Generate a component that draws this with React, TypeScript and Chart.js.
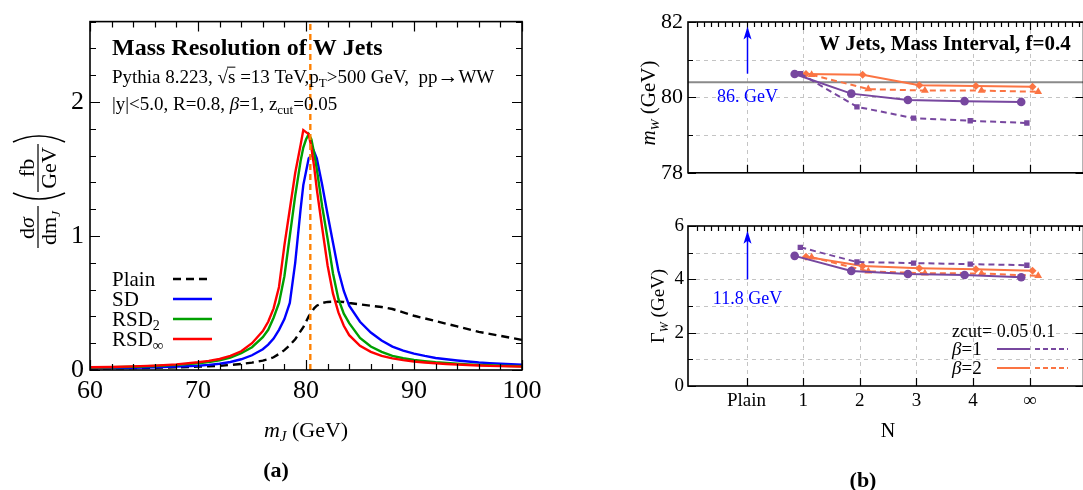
import { useEffect, useRef } from 'react';
import { Chart, registerables } from 'chart.js';

Chart.register(...registerables);

const SERIF = '"Liberation Serif", "Times New Roman", serif';

// ---------- (a) jet-mass distributions ----------
const massGeV = [
  60, 62, 64, 66, 68, 70, 71, 72, 73, 74, 75, 76, 76.5, 77, 77.5, 78, 78.5, 79, 79.5, 79.75,
  80, 80.25, 80.5, 80.75, 81, 81.5, 82, 82.5, 83, 83.5, 84, 85, 86, 87, 88, 89, 90, 91, 92, 93,
  94, 95, 96, 97, 98, 99, 100,
];
const plainXsec = [
  0.01, 0.012, 0.014, 0.017, 0.02, 0.025, 0.028, 0.032, 0.038, 0.045, 0.055, 0.07, 0.08, 0.095, 0.12, 0.148, 0.185, 0.23, 0.29, 0.32,
  0.36, 0.4, 0.43, 0.46, 0.48, 0.5, 0.508, 0.51, 0.51, 0.508, 0.5, 0.49, 0.48, 0.47, 0.455, 0.43, 0.405, 0.385, 0.365, 0.345,
  0.325, 0.305, 0.285, 0.27, 0.255, 0.24, 0.225,
];
const sdXsec = [
  0.012, 0.014, 0.017, 0.02, 0.025, 0.032, 0.038, 0.047, 0.06, 0.08, 0.11, 0.155, 0.19, 0.235, 0.3, 0.38, 0.5, 0.8, 1.2, 1.38,
  1.48, 1.58, 1.6, 1.63, 1.58, 1.38, 1.16, 0.95, 0.74, 0.59, 0.48, 0.36, 0.28, 0.22, 0.175, 0.145, 0.122, 0.105, 0.09, 0.08,
  0.071, 0.063, 0.056, 0.051, 0.047, 0.043, 0.04,
];
const rsd2Xsec = [
  0.018, 0.02, 0.024, 0.03, 0.038, 0.05, 0.06, 0.072, 0.092, 0.125, 0.17, 0.245, 0.3, 0.39, 0.5, 0.7, 1.0, 1.3, 1.56, 1.66,
  1.72, 1.76, 1.72, 1.62, 1.5, 1.22, 0.98, 0.72, 0.53, 0.42, 0.35, 0.24, 0.175, 0.135, 0.105, 0.088, 0.075, 0.066, 0.058, 0.052,
  0.047, 0.042, 0.038, 0.035, 0.032, 0.03, 0.028,
];
const rsdInfXsec = [
  0.02, 0.022, 0.027, 0.033, 0.042, 0.058, 0.068, 0.082, 0.105, 0.14, 0.2, 0.29, 0.36, 0.46, 0.62, 0.93, 1.2, 1.47, 1.68, 1.79,
  1.775, 1.76, 1.66, 1.52, 1.35, 1.06, 0.78, 0.57, 0.43, 0.33, 0.26, 0.18, 0.135, 0.105, 0.087, 0.074, 0.063, 0.056, 0.05, 0.045,
  0.041, 0.037, 0.034, 0.031, 0.029, 0.027, 0.025,
];
const wMassGeV = 80.4;
const massTicks = [60, 70, 80, 90, 100];
const xsecTicks = [0, 1, 2];

// ---------- (b) fitted W mass and width versus N ----------
const nLabels = ['Plain', '1', '2', '3', '4', '∞'];
const nTopLabels = ['No SD', '1', '2', '3', '4', '∞'];
const nPositions = [1, 2, 3, 4, 5];
const mwB1Z005 = [80.62, 80.1, 79.93, 79.9, 79.88];
const mwB1Z01 = [80.63, 79.75, 79.45, 79.38, 79.32];
const mwB2Z005 = [80.62, 80.6, 80.32, 80.3, 80.28];
const mwB2Z01 = [80.6, 80.22, 80.18, 80.18, 80.15];
const gwB1Z005 = [4.88, 4.31, 4.2, 4.16, 4.08];
const gwB1Z01 = [5.2, 4.65, 4.61, 4.57, 4.53];
const gwB2Z005 = [4.85, 4.5, 4.42, 4.38, 4.32];
const gwB2Z01 = [4.83, 4.3, 4.23, 4.22, 4.13];
const plainMwText = '86. GeV';
const plainGwText = '11.8 GeV';
const mwTicks = [78, 80, 82];
const gwTicks = [0, 2, 4, 6];

const PURPLE = '#77479f';
const ORANGE = '#fb7443';
const BLUE = '#0000ff';

// ---------- drawing helpers ----------
type Run = { t: string; px: number; italic?: boolean; bold?: boolean; dy?: number; over?: boolean; color?: string };

const fontOf = (r: Run) => `${r.italic ? 'italic ' : ''}${r.bold ? 'bold ' : ''}${r.px}px ${SERIF}`;

function runsWidth(ctx: CanvasRenderingContext2D, runs: Run[]) {
  let w = 0;
  for (const r of runs) {
    ctx.font = fontOf(r);
    w += ctx.measureText(r.t).width;
  }
  return w;
}

function drawRuns(ctx: CanvasRenderingContext2D, runs: Run[], x: number, y: number, align: 'left' | 'center' = 'left', color = '#000') {
  let cx = align === 'center' ? x - runsWidth(ctx, runs) / 2 : x;
  ctx.textAlign = 'left';
  ctx.textBaseline = 'alphabetic';
  for (const r of runs) {
    ctx.font = fontOf(r);
    ctx.fillStyle = r.color ?? color;
    const yy = y + (r.dy ?? 0);
    ctx.fillText(r.t, cx, yy);
    const w = ctx.measureText(r.t).width;
    if (r.over) ctx.fillRect(cx - 1, yy - r.px * 0.86, w + 1, 1);
    cx += w;
  }
}

function arrowUp(ctx: CanvasRenderingContext2D, x: number, yFrom: number, yTo: number) {
  ctx.save();
  ctx.strokeStyle = BLUE;
  ctx.fillStyle = BLUE;
  ctx.lineWidth = 1.5;
  ctx.setLineDash([]);
  ctx.beginPath();
  ctx.moveTo(x, yFrom);
  ctx.lineTo(x, yTo + 9);
  ctx.stroke();
  ctx.beginPath();
  ctx.moveTo(x, yTo);
  ctx.lineTo(x - 4, yTo + 13);
  ctx.lineTo(x, yTo + 10);
  ctx.lineTo(x + 4, yTo + 13);
  ctx.closePath();
  ctx.fill();
  ctx.restore();
}

type Side = { major: number[]; minor: number[] };
type FrameSpec = { bottom: Side; top: Side; left: Side; right: Side; majorLen: number; minorLen: number };

// Closed plot frame with inward tick marks on all four sides.
function framePlugin(spec: FrameSpec) {
  return {
    id: 'frameTicks',
    afterDatasetsDraw(chart: any) {
      const { ctx, chartArea: a } = chart;
      const sx = chart.scales.x;
      const sy = chart.scales.y;
      ctx.save();
      ctx.strokeStyle = '#000';
      ctx.setLineDash([]);
      ctx.lineWidth = 1.2;
      ctx.beginPath();
      const inX = (v: number) => v >= sx.min - 1e-9 && v <= sx.max + 1e-9;
      const inY = (v: number) => v >= sy.min - 1e-9 && v <= sy.max + 1e-9;
      const xs = (side: Side, edge: number, dir: number) => {
        for (const [vals, len] of [[side.major, spec.majorLen], [side.minor, spec.minorLen]] as [number[], number][]) {
          for (const v of vals) {
            if (!inX(v)) continue;
            const px = Math.round(sx.getPixelForValue(v)) + 0.5;
            ctx.moveTo(px, edge);
            ctx.lineTo(px, edge + dir * len);
          }
        }
      };
      const ys = (side: Side, edge: number, dir: number) => {
        for (const [vals, len] of [[side.major, spec.majorLen], [side.minor, spec.minorLen]] as [number[], number][]) {
          for (const v of vals) {
            if (!inY(v)) continue;
            const py = Math.round(sy.getPixelForValue(v)) + 0.5;
            ctx.moveTo(edge, py);
            ctx.lineTo(edge + dir * len, py);
          }
        }
      };
      xs(spec.bottom, a.bottom, -1);
      xs(spec.top, a.top, 1);
      ys(spec.left, a.left, 1);
      ys(spec.right, a.right, -1);
      ctx.stroke();
      ctx.lineWidth = 1.6;
      ctx.strokeRect(a.left, a.top, a.right - a.left, a.bottom - a.top);
      ctx.restore();
    },
  };
}

// Light dashed grid for the N panels.
function gridPlugin(xs: number[], ys: number[]) {
  return {
    id: 'dashGrid',
    beforeDatasetsDraw(chart: any) {
      const { ctx, chartArea: a } = chart;
      const sx = chart.scales.x;
      const sy = chart.scales.y;
      ctx.save();
      ctx.strokeStyle = '#c4c4c4';
      ctx.lineWidth = 1;
      ctx.setLineDash([4, 4]);
      ctx.beginPath();
      for (const v of xs) {
        const px = Math.round(sx.getPixelForValue(v)) + 0.5;
        ctx.moveTo(px, a.top);
        ctx.lineTo(px, a.bottom);
      }
      for (const v of ys) {
        const py = Math.round(sy.getPixelForValue(v)) + 0.5;
        ctx.moveTo(a.left, py);
        ctx.lineTo(a.right, py);
      }
      ctx.stroke();
      ctx.restore();
    },
  };
}

const range = (from: number, to: number, step: number) => {
  const out: number[] = [];
  for (let k = 0; from + k * step <= to + 1e-9; k++) out.push(+(from + k * step).toFixed(4));
  return out;
};
const without = (vals: number[], skip: number[]) => vals.filter((v) => !skip.some((s) => Math.abs(s - v) < 1e-6));

// ---------- chart (a) ----------
function makeMassChart(canvas: HTMLCanvasElement) {
  const W = canvas.width;
  const H = canvas.height;
  const pts = (ys: number[]) => ys.map((y, i) => ({ x: massGeV[i], y }));

  const legendRows: { runs: Run[]; color: string; dash: number[] }[] = [
    { runs: [{ t: 'Plain', px: 21 }], color: '#000', dash: [8, 5] },
    { runs: [{ t: 'SD', px: 21 }], color: BLUE, dash: [] },
    { runs: [{ t: 'RSD', px: 21 }, { t: '2', px: 14, dy: 4 }], color: '#00a000', dash: [] },
    { runs: [{ t: 'RSD', px: 21 }, { t: '∞', px: 15, dy: 4 }], color: '#ff0000', dash: [] },
  ];

  const notes = {
    id: 'massNotes',
    afterDraw(chart: any) {
      const ctx: CanvasRenderingContext2D = chart.ctx;
      ctx.save();
      drawRuns(ctx, [{ t: 'Mass Resolution of W Jets', px: 24, bold: true }], 112, 55);
      drawRuns(
        ctx,
        [
          { t: 'Pythia 8.223, ', px: 19 },
          { t: '√', px: 19 },
          { t: 's', px: 19, over: true },
          { t: ' =13 TeV,p', px: 19 },
          { t: 'T', px: 13, dy: 4 },
          { t: '>500 GeV,  pp', px: 19 },
          { t: '→', px: 21 },
          { t: 'WW', px: 19 },
        ],
        112,
        83,
      );
      drawRuns(
        ctx,
        [
          { t: '|y|<5.0, R=0.8, ', px: 19 },
          { t: 'β', px: 19, italic: true },
          { t: '=1, z', px: 19 },
          { t: 'cut', px: 13, dy: 4 },
          { t: '=0.05', px: 19 },
        ],
        112,
        110,
      );

      legendRows.forEach((row, i) => {
        const base = 286 + i * 20;
        drawRuns(ctx, row.runs, 112, base);
        ctx.strokeStyle = row.color;
        ctx.lineWidth = 2.4;
        ctx.setLineDash(row.dash);
        ctx.beginPath();
        ctx.moveTo(173, base - 7);
        ctx.lineTo(212, base - 7);
        ctx.stroke();
      });
      ctx.setLineDash([]);

      drawRuns(
        ctx,
        [
          { t: 'm', px: 22, italic: true },
          { t: 'J', px: 15, italic: true, dy: 4 },
          { t: ' (GeV)', px: 22 },
        ],
        306,
        437,
        'center',
      );
      drawRuns(ctx, [{ t: '(a)', px: 22, bold: true }], 276, 477, 'center');

      // dσ/dm_J (fb/GeV), rotated
      ctx.save();
      ctx.translate(38, 249);
      ctx.rotate(-Math.PI / 2);
      drawRuns(ctx, [{ t: 'd', px: 22 }, { t: 'σ', px: 22, italic: true }], 21, -4, 'center');
      drawRuns(ctx, [{ t: 'dm', px: 22 }, { t: 'J', px: 13, italic: true, dy: 4 }], 21, 18, 'center');
      ctx.fillStyle = '#000';
      ctx.fillRect(1, -0.6, 42, 1.2);
      drawRuns(ctx, [{ t: 'fb', px: 22 }], 81, -4, 'center');
      drawRuns(ctx, [{ t: 'GeV', px: 22 }], 81, 18, 'center');
      ctx.fillRect(57, -0.6, 48, 1.2);
      ctx.strokeStyle = '#000';
      ctx.lineWidth = 1.6;
      ctx.beginPath();
      ctx.moveTo(56, -25);
      ctx.quadraticCurveTo(44, 1, 56, 27);
      ctx.moveTo(107, -25);
      ctx.quadraticCurveTo(119, 1, 107, 27);
      ctx.stroke();
      ctx.restore();

      ctx.restore();
    },
  };

  const xMinor = without(range(60, 100, 2), massTicks);
  const yMinor = without(range(0, 2.6, 0.2), xsecTicks);

  return new Chart(canvas, {
    type: 'line',
    data: {
      datasets: [
        { label: 'Plain', data: pts(plainXsec), borderColor: '#000', borderDash: [8, 5], borderWidth: 2.4, order: 3 },
        { label: 'SD', data: pts(sdXsec), borderColor: BLUE, borderWidth: 2.4, order: 2 },
        { label: 'RSD2', data: pts(rsd2Xsec), borderColor: '#00a000', borderWidth: 2.4, order: 1 },
        { label: 'RSD∞', data: pts(rsdInfXsec), borderColor: '#ff0000', borderWidth: 2.4, order: 0 },
        {
          label: 'mW',
          data: [
            { x: wMassGeV, y: 0 },
            { x: wMassGeV, y: 2.6 },
          ],
          borderColor: '#ff8000',
          borderDash: [6, 4],
          borderWidth: 2.4,
          order: -1,
        },
      ],
    } as any,
    options: {
      responsive: false,
      animation: false,
      events: [],
      layout: { padding: { left: 0, top: 14, right: W - 522, bottom: 0 } },
      elements: { point: { radius: 0 }, line: { tension: 0 } },
      plugins: { legend: { display: false }, tooltip: { enabled: false } },
      scales: {
        x: {
          type: 'linear',
          min: 60,
          max: 100,
          grid: { display: false, drawTicks: false },
          border: { display: false },
          afterBuildTicks: (s: any) => {
            s.ticks = massTicks.map((value) => ({ value }));
          },
          afterFit: (s: any) => {
            s.height = H - 370;
          },
          ticks: { font: { family: SERIF, size: 26 }, color: '#000', padding: 6, maxRotation: 0, autoSkip: false },
        },
        y: {
          type: 'linear',
          min: 0,
          max: 2.6,
          grid: { display: false, drawTicks: false },
          border: { display: false },
          afterBuildTicks: (s: any) => {
            s.ticks = xsecTicks.map((value) => ({ value }));
          },
          afterFit: (s: any) => {
            s.width = 90;
          },
          ticks: { font: { family: SERIF, size: 26 }, color: '#000', padding: 6, autoSkip: false },
        },
      },
    } as any,
    plugins: [
      framePlugin({
        bottom: { major: massTicks, minor: xMinor },
        top: { major: massTicks, minor: xMinor },
        left: { major: xsecTicks, minor: yMinor },
        right: { major: xsecTicks, minor: yMinor },
        majorLen: 10,
        minorLen: 6,
      }),
      notes,
    ] as any,
  });
}

// ---------- chart (b) shared pieces ----------
const SHIFT_CIRCLE = -0.15;
const SHIFT_SQUARE = -0.05;
const SHIFT_DIAMOND = 0.05;
const SHIFT_TRIANGLE = 0.15;
const N_MIN = -1.033;
const N_MAX = 5.95;

const seriesPts = (vals: number[], shift: number) => vals.map((y, i) => ({ x: nPositions[i] + shift, y }));

function nDatasets(b1z005: number[], b1z01: number[], b2z005: number[], b2z01: number[]) {
  const base = { borderWidth: 2, tension: 0, pointBorderWidth: 0 };
  return [
    {
      ...base,
      data: seriesPts(b2z01, SHIFT_TRIANGLE),
      borderColor: ORANGE,
      borderDash: [6, 4],
      pointStyle: 'triangle',
      pointRadius: 4.5,
      pointBackgroundColor: ORANGE,
      pointBorderColor: ORANGE,
      order: 4,
    },
    {
      ...base,
      data: seriesPts(b2z005, SHIFT_DIAMOND),
      borderColor: ORANGE,
      pointStyle: 'rectRot',
      pointRadius: 4,
      pointBackgroundColor: ORANGE,
      pointBorderColor: ORANGE,
      order: 3,
    },
    {
      ...base,
      data: seriesPts(b1z01, SHIFT_SQUARE),
      borderColor: PURPLE,
      borderDash: [6, 4],
      pointStyle: 'rect',
      pointRadius: 3.8,
      pointBackgroundColor: PURPLE,
      pointBorderColor: PURPLE,
      order: 2,
    },
    {
      ...base,
      data: seriesPts(b1z005, SHIFT_CIRCLE),
      borderColor: PURPLE,
      pointStyle: 'circle',
      pointRadius: 4.3,
      pointBackgroundColor: PURPLE,
      pointBorderColor: PURPLE,
      order: 1,
    },
  ];
}

const nMajor = [0, 1, 2, 3, 4, 5];
const nMinor = without(range(-1, 6, 0.125), range(-1, 6, 1));

function nScaleX(labels: string[], height: number, fontSize: number, padding: number) {
  return {
    type: 'linear',
    min: N_MIN,
    max: N_MAX,
    grid: { display: false, drawTicks: false },
    border: { display: false },
    afterBuildTicks: (s: any) => {
      s.ticks = nMajor.map((value) => ({ value }));
    },
    afterFit: (s: any) => {
      s.height = height;
    },
    ticks: {
      font: { family: SERIF, size: fontSize },
      color: '#000',
      padding,
      maxRotation: 0,
      autoSkip: false,
      callback: (v: number) => labels[Math.round(v)] ?? '',
    },
  };
}

function nScaleY(min: number, max: number, ticks: number[], fontSize: number, padding: number) {
  return {
    type: 'linear',
    min,
    max,
    grid: { display: false, drawTicks: false },
    border: { display: false },
    afterBuildTicks: (s: any) => {
      s.ticks = ticks.map((value) => ({ value }));
    },
    afterFit: (s: any) => {
      s.width = 88;
    },
    ticks: { font: { family: SERIF, size: fontSize }, color: '#000', padding, autoSkip: false },
  };
}

// ---------- chart (b) top: m_W ----------
function makeMwChart(canvas: HTMLCanvasElement) {
  const H = canvas.height;
  const yMinor = [79, 81];

  const notes = {
    id: 'mwNotes',
    afterDraw(chart: any) {
      const ctx: CanvasRenderingContext2D = chart.ctx;
      const sx = chart.scales.x;
      const sy = chart.scales.y;
      ctx.save();
      drawRuns(ctx, [{ t: 'W Jets, Mass Interval, f=0.4', px: 21, bold: true }], 219, 50);
      const px = Math.round(sx.getPixelForValue(0)) + 0.5;
      arrowUp(ctx, px, sy.getPixelForValue(80.63), sy.getPixelForValue(81.88));
      drawRuns(ctx, [{ t: plainMwText, px: 18 }], px, 102, 'center', BLUE);
      ctx.save();
      ctx.translate(48, 103);
      ctx.rotate(-Math.PI / 2);
      drawRuns(
        ctx,
        [
          { t: 'm', px: 21, italic: true },
          { t: 'W', px: 13, italic: true, dy: 4 },
          { t: ' (GeV)', px: 21 },
        ],
        0,
        7,
        'center',
      );
      ctx.restore();
      ctx.restore();
    },
  };

  return new Chart(canvas, {
    type: 'line',
    data: {
      datasets: [
        {
          data: [
            { x: N_MIN, y: wMassGeV },
            { x: N_MAX, y: wMassGeV },
          ],
          borderColor: '#8a8a8a',
          borderWidth: 2,
          pointRadius: 0,
          order: 9,
        },
        ...nDatasets(mwB1Z005, mwB1Z01, mwB2Z005, mwB2Z01),
      ],
    } as any,
    options: {
      responsive: false,
      animation: false,
      events: [],
      layout: { padding: { left: 0, top: 22, right: 1, bottom: 0 } },
      plugins: { legend: { display: false }, tooltip: { enabled: false } },
      scales: {
        x: nScaleX(nTopLabels, H - 182, 20, 6),
        y: nScaleY(78, 82, mwTicks, 22, 5),
      },
    } as any,
    plugins: [
      gridPlugin(nMajor, [79, 80, 81]),
      framePlugin({
        bottom: { major: nMajor, minor: [] },
        top: { major: nMajor, minor: nMinor },
        left: { major: mwTicks, minor: yMinor },
        right: { major: mwTicks, minor: yMinor },
        majorLen: 8,
        minorLen: 5,
      }),
      notes,
    ] as any,
  });
}

// ---------- chart (b) bottom: Γ_W ----------
function makeGwChart(canvas: HTMLCanvasElement) {
  const H = canvas.height;
  const yMinor = [1, 3, 5];

  const notes = {
    id: 'gwNotes',
    afterDraw(chart: any) {
      const ctx: CanvasRenderingContext2D = chart.ctx;
      const sx = chart.scales.x;
      const sy = chart.scales.y;
      ctx.save();
      const px = Math.round(sx.getPixelForValue(0)) + 0.5;
      arrowUp(ctx, px, sy.getPixelForValue(4.0), sy.getPixelForValue(5.82));
      drawRuns(ctx, [{ t: plainGwText, px: 18 }], px, 104, 'center', BLUE);

      // zcut / beta key
      drawRuns(ctx, [{ t: 'zcut= 0.05 0.1', px: 18 }], 352, 137);
      const keyRows = [
        { runs: [{ t: 'β', px: 19, italic: true }, { t: '=1', px: 19 }] as Run[], color: PURPLE, y: 149 },
        { runs: [{ t: 'β', px: 19, italic: true }, { t: '=2', px: 19 }] as Run[], color: ORANGE, y: 168 },
      ];
      for (const row of keyRows) {
        drawRuns(ctx, row.runs, 352, row.y + 6);
        ctx.strokeStyle = row.color;
        ctx.lineWidth = 2;
        ctx.setLineDash([]);
        ctx.beginPath();
        ctx.moveTo(397, row.y);
        ctx.lineTo(430, row.y);
        ctx.stroke();
        ctx.setLineDash([5, 3]);
        ctx.beginPath();
        ctx.moveTo(435, row.y);
        ctx.lineTo(468, row.y);
        ctx.stroke();
        ctx.setLineDash([]);
      }

      drawRuns(ctx, [{ t: 'N', px: 20 }], 288, 237, 'center');
      drawRuns(ctx, [{ t: '(b)', px: 22, bold: true }], 263, 287, 'center');

      ctx.save();
      ctx.translate(57, 106);
      ctx.rotate(-Math.PI / 2);
      drawRuns(
        ctx,
        [
          { t: 'Γ', px: 19 },
          { t: 'W', px: 12, italic: true, dy: 4 },
          { t: ' (GeV)', px: 19 },
        ],
        0,
        7,
        'center',
      );
      ctx.restore();
      ctx.restore();
    },
  };

  return new Chart(canvas, {
    type: 'line',
    data: { datasets: nDatasets(gwB1Z005, gwB1Z01, gwB2Z005, gwB2Z01) } as any,
    options: {
      responsive: false,
      animation: false,
      events: [],
      layout: { padding: { left: 0, top: 26, right: 1, bottom: 0 } },
      plugins: { legend: { display: false }, tooltip: { enabled: false } },
      scales: {
        x: nScaleX(nLabels, H - 186, 19, 4),
        y: nScaleY(0, 6, gwTicks, 19, 4),
      },
    } as any,
    plugins: [
      gridPlugin(nMajor, [1, 2, 3, 4, 5]),
      framePlugin({
        bottom: { major: nMajor, minor: [] },
        top: { major: nMajor, minor: nMinor },
        left: { major: gwTicks, minor: yMinor },
        right: { major: gwTicks, minor: yMinor },
        majorLen: 8,
        minorLen: 5,
      }),
      notes,
    ] as any,
  });
}

export default function App() {
  const massRef = useRef<HTMLCanvasElement>(null);
  const mwRef = useRef<HTMLCanvasElement>(null);
  const gwRef = useRef<HTMLCanvasElement>(null);

  useEffect(() => {
    const charts = [makeMassChart(massRef.current!), makeMwChart(mwRef.current!), makeGwChart(gwRef.current!)];
    return () => charts.forEach((c) => c.destroy());
  }, []);

  return (
    <div
      style={{
        position: 'absolute',
        left: 0,
        top: 0,
        width: 1083,
        height: 490,
        overflow: 'hidden',
        background: '#fff',
      }}
    >
      <canvas ref={massRef} width={560} height={490} style={{ position: 'absolute', left: 0, top: 0, width: 560, height: 490 }} />
      <canvas ref={mwRef} width={488} height={191} style={{ position: 'absolute', left: 600, top: 0, width: 488, height: 191 }} />
      <canvas ref={gwRef} width={488} height={290} style={{ position: 'absolute', left: 600, top: 200, width: 488, height: 290 }} />
    </div>
  );
}
